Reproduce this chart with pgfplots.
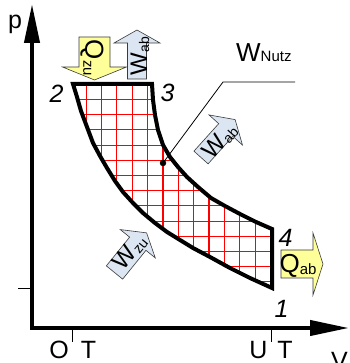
\documentclass[border=0pt]{standalone}
\usepackage{pgfplots}
\pgfplotsset{compat=1.18}
\usepackage{fontspec}
\setmainfont{Liberation Sans}
\usetikzlibrary{arrows.meta}

\definecolor{heatyellow}{HTML}{FFFF99}
\definecolor{workblue}{HTML}{DCE6F2}
\definecolor{arrowedge}{HTML}{3A3A3A}
\definecolor{hatchred}{HTML}{FF0000}

% label with a lowered subscript: size, subscript size, main text, subscript
\newcommand{\lab}[4]{{\fontsize{#1}{#1}\selectfont #3\raisebox{-2pt}{\fontsize{#2}{#2}\selectfont #4}}}
\newcommand{\bigfont}{\fontsize{25}{25}\selectfont}

% block arrow: tail centre x, y (axis), angle, length, head base, half shaft, half head, fill
\newcommand{\blockarrow}[8]{%
  \draw[arrowedge, line width=0.6pt, fill=#8, line join=miter,
        shift={(axis cs:#1,#2)}, rotate=#3]
    (0pt,-#6pt) -- (#5pt,-#6pt) -- (#5pt,-#7pt) -- (#4pt,0pt)
    -- (#5pt,#7pt) -- (#5pt,#6pt) -- (0pt,#6pt) -- cycle;}

\begin{document}
\begin{tikzpicture}
\begin{axis}[
  scale only axis, width=317pt, height=324pt,
  xmin=32, xmax=349, ymin=35, ymax=359,
  axis lines=left,
  axis line style={line width=4pt, line cap=rect, -{Triangle[length=39pt,width=15pt]}},
  xtick={72,271}, ytick={75},
  xticklabels={}, yticklabels={},
  tick align=outside, major tick length=13.5pt,
  every tick/.style={black, line width=0.8pt},
  clip=false,
]
\coordinate (bl) at (axis cs:0,0);
\coordinate (tr) at (axis cs:349,363);

% hatching of the work area
\addplot[hatchred, line width=1.1pt, unbounded coords=jump] coordinates {
  (86.2,75) (86.2,279) (86.2,nan)
  (101.55,75) (101.55,279) (101.55,nan)
  (116.9,75) (116.9,279) (116.9,nan)
  (132.25,75) (132.25,279) (132.25,nan)
  (147.6,75) (147.6,279) (147.6,nan)
  (162.95,75) (162.95,279) (162.95,nan)
  (178.3,75) (178.3,279) (178.3,nan)
  (193.65,75) (193.65,279) (193.65,nan)
  (209,75) (209,279) (209,nan)
  (224.35,75) (224.35,279) (224.35,nan)
  (239.7,75) (239.7,279) (239.7,nan)
  (255.05,75) (255.05,279) (255.05,nan)
  (270.4,75) (270.4,279)
};
\addplot[hatchred, line width=1.1pt, unbounded coords=jump] coordinates {
  (73,263.5) (272,263.5) (nan,263.5)
  (73,248.3) (272,248.3) (nan,248.3)
  (73,233.1) (272,233.1) (nan,233.1)
  (73,217.9) (272,217.9) (nan,217.9)
  (73,202.7) (272,202.7) (nan,202.7)
  (73,187.5) (272,187.5) (nan,187.5)
  (73,172.3) (272,172.3) (nan,172.3)
  (73,157.1) (272,157.1) (nan,157.1)
  (73,141.9) (272,141.9) (nan,141.9)
  (73,126.7) (272,126.7) (nan,126.7)
  (73,111.5) (272,111.5) (nan,111.5)
  (73,96.3) (272,96.3) (nan,96.3)
  (73,81.1) (272,81.1)
};
% clear the hatching outside the cycle
\addplot[draw=none, fill=white] coordinates {
  (152,279) (153,263) (155,248) (158,233) (163,218) (170,206) (178,196)
  (187,186) (198,176) (211,165) (225,157) (240,149) (256,141) (272,134)
  (275,134) (275,282) (152,282)} -- cycle;
\addplot[draw=none, fill=white] coordinates {
  (73,279) (77,266) (81,252) (87,236) (93,220) (100,207) (107,195)
  (115,182) (123,171) (133,160) (143,150) (155,140) (167,131) (180,123)
  (193,115) (210,106) (230,95) (250,85) (272,75)
  (272,72) (70,72) (70,279)} -- cycle;

% the cycle 1-2-3-4
\addplot[black, line width=4pt, line join=miter] coordinates {
  (73,279) (152,279)
  (153,263) (155,248) (158,233) (163,218) (170,206) (178,196)
  (187,186) (198,176) (211,165) (225,157) (240,149) (256,141) (272,134)
  (272,75)
  (250,85) (230,95) (210,106) (193,115) (180,123) (167,131) (155,140)
  (143,150) (133,160) (123,171) (115,182) (107,195) (100,207) (93,220)
  (87,236) (81,252) (77,266)} -- cycle;

% pointer to the useful work
\addplot[black, line width=0.8pt] coordinates {(163,200) (223,281) (295,281)};
\addplot[black, only marks, mark=*, mark size=3pt] coordinates {(163,200)};
\node[anchor=base west, inner sep=0pt] at (axis cs:236,301)
  {\fontsize{26}{26}\selectfont W\fontsize{15}{15}\selectfont Nutz};

% heat and work arrows
\blockarrow{94.5}{326}{-90}{43}{30}{15.5}{32}{heatyellow}
\node[rotate=-90, inner sep=0pt] at (axis cs:92,305) {\lab{26}{15}{Q}{zu}};
\blockarrow{137}{284}{90}{49}{36}{9.5}{23}{workblue}
\node[rotate=90, inner sep=0pt] at (axis cs:140,307) {\lab{24}{14}{W}{ab}};
\blockarrow{201}{205.5}{48}{51}{37}{9.5}{22.5}{workblue}
\node[rotate=48, inner sep=0pt] at (axis cs:220,222) {\lab{24}{14}{W}{ab}};
\blockarrow{114.5}{90.5}{51}{51}{37}{10.5}{22.5}{workblue}
\node[rotate=51, inner sep=0pt] at (axis cs:130,111) {\lab{24}{14}{W}{zu}};
\blockarrow{281}{99}{0}{42}{32}{14}{31}{heatyellow}
\node[inner sep=0pt] at (axis cs:298,97) {\lab{26}{15}{Q}{ab}};

% state points
\node[inner sep=0pt, font=\bigfont\itshape] at (axis cs:56.5,269.5) {2};
\node[inner sep=0pt, font=\bigfont\itshape] at (axis cs:167.5,270.5) {3};
\node[inner sep=0pt, font=\bigfont\itshape] at (axis cs:285.5,125.5) {4};
\node[inner sep=0pt, font=\bigfont\itshape] at (axis cs:281.5,54.5) {1};

% dead centres and axis names
\node[anchor=base, inner sep=0pt, font=\bigfont] at (axis cs:59,5) {O};
\node[anchor=base, inner sep=0pt, font=\bigfont] at (axis cs:88.5,5) {T};
\node[anchor=base, inner sep=0pt, font=\bigfont] at (axis cs:258.5,5) {U};
\node[anchor=base, inner sep=0pt, font=\bigfont] at (axis cs:285,5) {T};
\node[anchor=base, inner sep=0pt, font=\bigfont] at (axis cs:15,334) {p};
\node[anchor=base, inner sep=0pt, font=\bigfont] at (axis cs:339.5,-6) {V};
\end{axis}
\pgfresetboundingbox
\path[use as bounding box] (bl) rectangle (tr);
\end{tikzpicture}
\end{document}
